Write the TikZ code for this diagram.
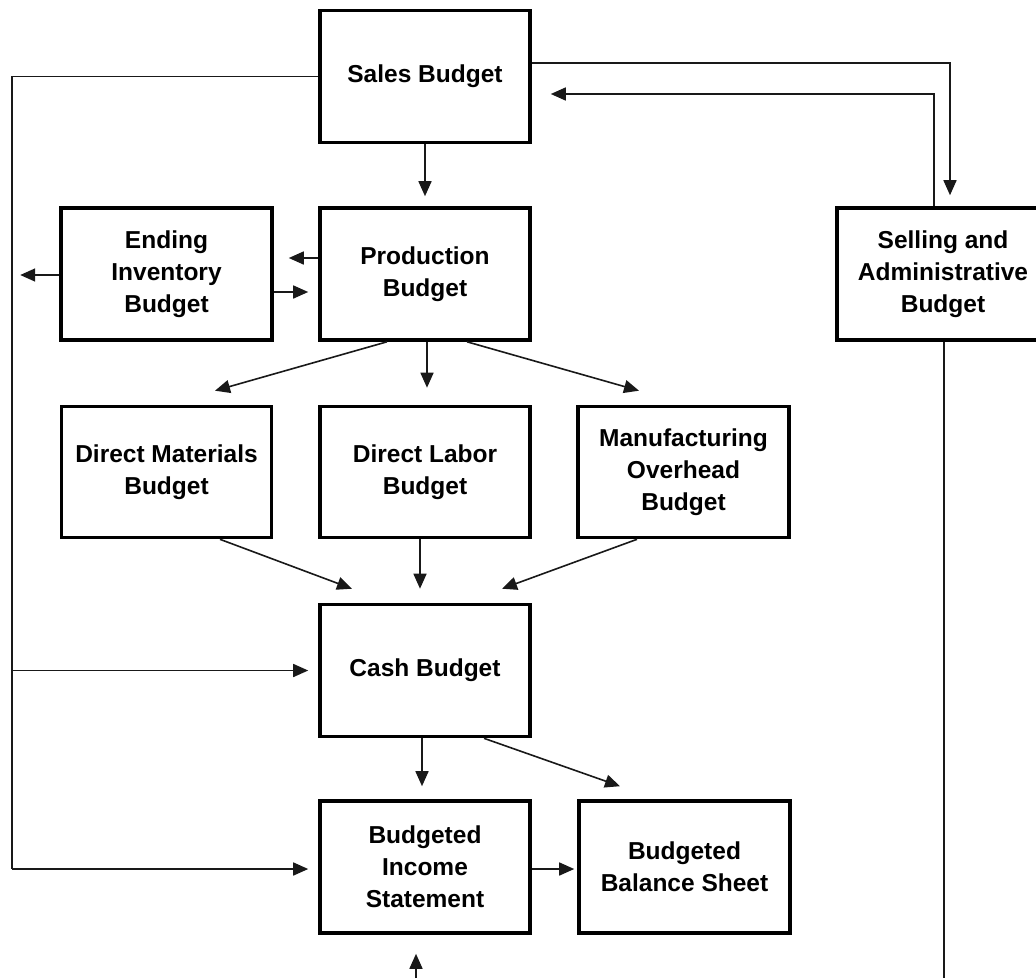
\documentclass[tikz,border=0pt]{standalone}
\usepackage{fontspec}
\setmainfont{Liberation Sans}
\usetikzlibrary{arrows.meta,calc}
\begin{document}
\begin{tikzpicture}[x=1pt,y=1pt,
  box/.style={draw=black,line width=3.6pt,fill=white,rectangle,inner sep=0pt,
    minimum width=210pt,minimum height=132pt,align=center,
    font=\fontsize{24.5}{32}\selectfont\bfseries},
  conn/.style={line width=1.6pt,draw=black!90},
  arr/.style={conn,-{Triangle[length=15pt,width=13pt]}}]
\useasboundingbox (0,0) rectangle (1036,-978);
\clip (0,0) rectangle (1036,-978);
\fill[white] (0,0) rectangle (1036,-978);
% nodes
\node[box] (sales) at (425,-76.5) {Sales Budget};
\node[box] (prod) at (425,-274) {Production\\Budget};
\node[box,minimum width=211pt] (ei) at (166.5,-274) {Ending\\Inventory\\Budget};
\node[box,minimum width=212pt] (sa) at (943,-274) {Selling and\\Administrative\\Budget};
\node[box,minimum height=131pt] (dm) at (166.5,-472) {Direct Materials\\Budget};
\node[box,minimum height=131pt] (dl) at (425,-472) {Direct Labor\\Budget};
\node[box,minimum height=131pt,minimum width=211pt] (mo) at (683.5,-472) {Manufacturing\\Overhead\\Budget};
\node[box] (cash) at (425,-670.5) {Cash Budget};
\node[box] (inc) at (425,-867) {Budgeted\\Income\\Statement};
\node[box,minimum width=211pt] (bal) at (684.5,-867) {Budgeted\\Balance Sheet};
% helper coordinates
\coordinate (lt) at (12,-76.5);
\coordinate (lb) at (12,-869);
\coordinate (sr) at (950,-63);
\coordinate (rr) at (934,-94);
\coordinate (bot) at (416,-978);
% connectors
\draw[arr] (sales.south) -- ($(prod.north)+(0,10)$);
\draw[conn] (sales.west) -- (lt) -- (lb);
\draw[arr] (lt |- cash.west) -- ($(cash.west)+(-10,0)$);
\draw[arr] (lb) -- ($(inc.west)+(-10,-2)$);
\draw[arr] ($(sales.east)+(0,13.5)$) -- (sr) -- ($(sa.north)+(7,11)$);
\draw[arr] ($(sa.north)+(-9,0)$) -- (rr) -- ($(sales.east)+(19,-17.5)$);
\draw[arr] ($(prod.west)+(0,16)$) -- ($(ei.east)+(15,16)$);
\draw[arr] ($(ei.east)+(0,-18)$) -- ($(prod.west)+(-10,-18)$);
\draw[arr] ($(ei.west)+(0,-1)$) -- ($(ei.west)+(-39,-1)$);
\draw[arr] ($(prod.south)+(-38,0)$) -- ($(dm.north)+(48.5,14)$);
\draw[arr] ($(prod.south)+(2,0)$) -- ($(dl.north)+(2,17)$);
\draw[arr] ($(prod.south)+(42,0)$) -- ($(mo.north)+(-44.5,14)$);
\draw[arr] ($(dm.south)+(53.5,0)$) -- ($(cash.north)+(-73,14)$);
\draw[arr] ($(dl.south)+(-5,0)$) -- ($(cash.north)+(-5,14)$);
\draw[arr] ($(mo.south)+(-46.5,0)$) -- ($(cash.north)+(77,14)$);
\draw[arr] ($(cash.south)+(-3,0)$) -- ($(inc.north)+(-3,13)$);
\draw[arr] ($(cash.south)+(59,0)$) -- ($(bal.north)+(-64.5,13)$);
\draw[arr] ($(inc.east)+(0,-2)$) -- ($(bal.west)+(-3,-2)$);
\draw[arr] (bot) -- ($(inc.south)+(-9,-19)$);
\draw[conn] ($(sa.south)+(1,0)$) -- ($(sa.south |- bot)+(1,0)$);
\end{tikzpicture}
\end{document}
